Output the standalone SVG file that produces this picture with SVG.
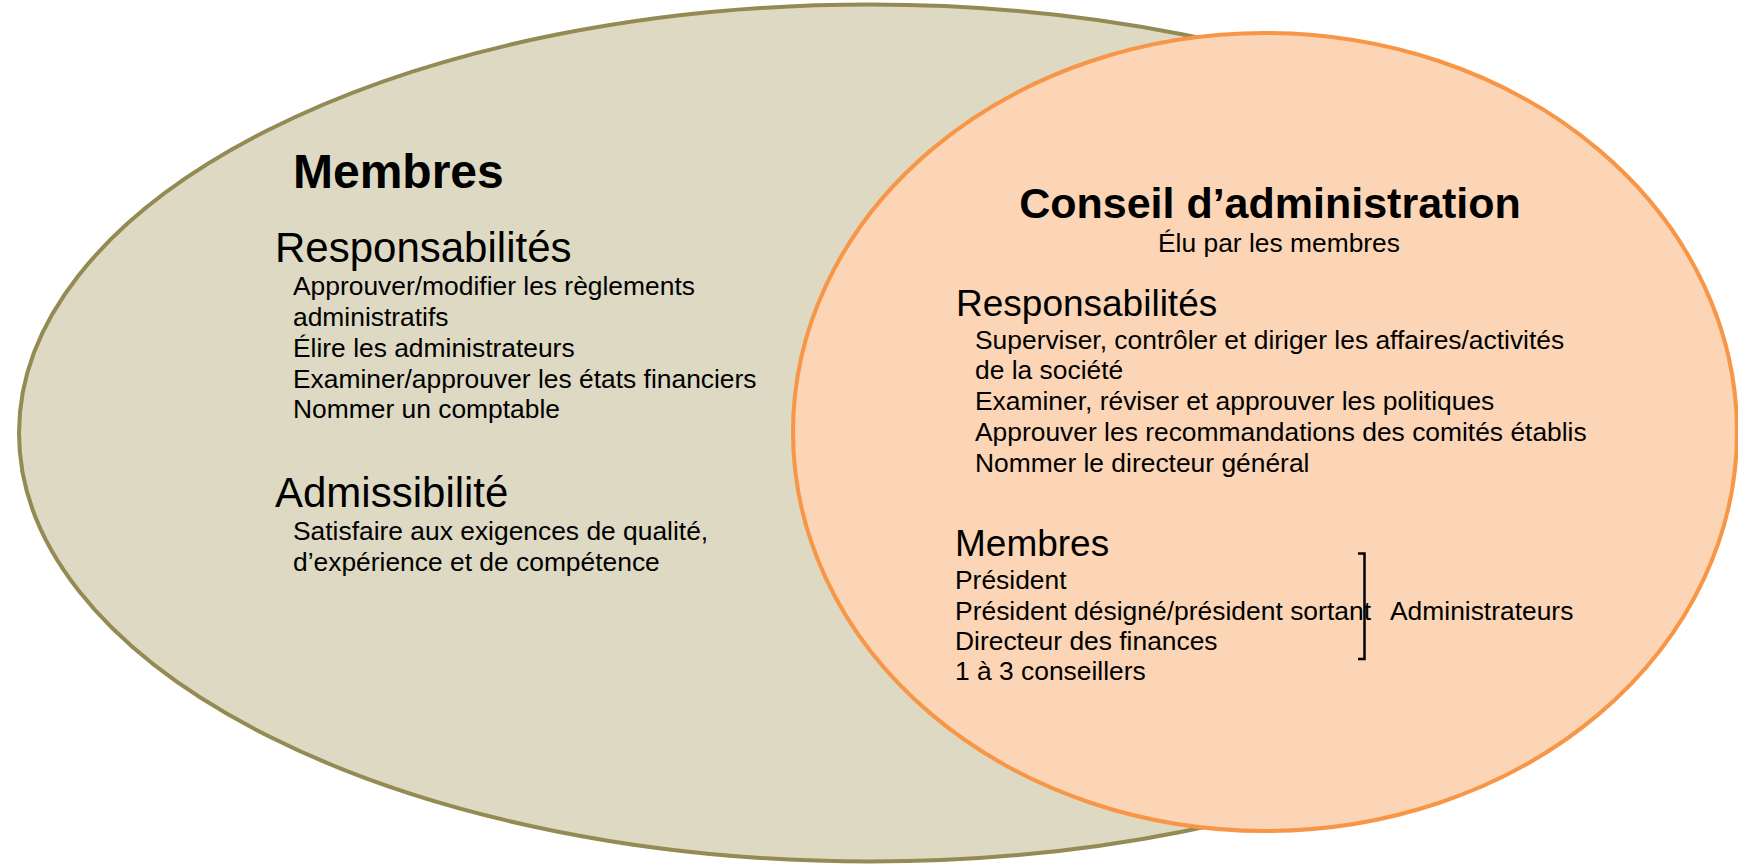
<svg xmlns="http://www.w3.org/2000/svg" width="1738" height="866" viewBox="0 0 1738 866">
<style>
text { font-family: "Liberation Sans", Arial, sans-serif; fill: #000; }
.title { font-weight: bold; }
.item { font-size: 26.4px; }
.head { font-size: 42px; }
.rhead { font-size: 37px; }
.circA { fill: #DDD9C3; stroke: #948A54; stroke-width: 4; }
.circB { fill: #FBD5B5; stroke: #F79646; stroke-width: 4; }
.bracket { fill: none; stroke: #000; stroke-width: 2.5; }
</style>
<rect width="1738" height="866" fill="#FFFFFF"/>
<g id="membres">
  <ellipse class="circA" cx="870" cy="433" rx="851" ry="428.5"/>
  <text class="title" x="293" y="188" font-size="48">Membres</text>
  <text class="head" x="275" y="262">Responsabilités</text>
  <text class="item" x="293" y="295">Approuver/modifier les règlements</text>
  <text class="item" x="293" y="326">administratifs</text>
  <text class="item" x="293" y="357">Élire les administrateurs</text>
  <text class="item" x="293" y="388">Examiner/approuver les états financiers</text>
  <text class="item" x="293" y="418">Nommer un comptable</text>
  <text class="head" x="275" y="507" font-size="41.5">Admissibilité</text>
  <text class="item" x="293" y="540">Satisfaire aux exigences de qualité,</text>
  <text class="item" x="293" y="571">d’expérience et de compétence</text>
</g>
<g id="conseil">
  <ellipse class="circB" cx="1265" cy="432" rx="472" ry="399"/>
  <text class="title" x="1270" y="218" font-size="43" text-anchor="middle">Conseil d’administration</text>
  <text class="item" x="1279" y="252" font-size="27" text-anchor="middle">Élu par les membres</text>
  <text class="rhead" x="956" y="316">Responsabilités</text>
  <text class="item" x="975" y="349">Superviser, contrôler et diriger les affaires/activités</text>
  <text class="item" x="975" y="379">de la société</text>
  <text class="item" x="975" y="410">Examiner, réviser et approuver les politiques</text>
  <text class="item" x="975" y="441">Approuver les recommandations des comités établis</text>
  <text class="item" x="975" y="472">Nommer le directeur général</text>
  <text class="rhead" x="955" y="556">Membres</text>
  <text class="item" x="955" y="589">Président</text>
  <text class="item" x="955" y="620" textLength="416" lengthAdjust="spacingAndGlyphs">Président désigné/président sortant</text>
  <text class="item" x="955" y="650">Directeur des finances</text>
  <text class="item" x="955" y="680">1 à 3 conseillers</text>
</g>
<g id="administrateurs">
  <text class="item" x="1390" y="620">Administrateurs</text>
</g>
<g id="connectors">
  <path class="bracket" d="M1358,553.5 L1364.5,553.5 L1364.5,659 L1358,659"/>
</g>
</svg>
